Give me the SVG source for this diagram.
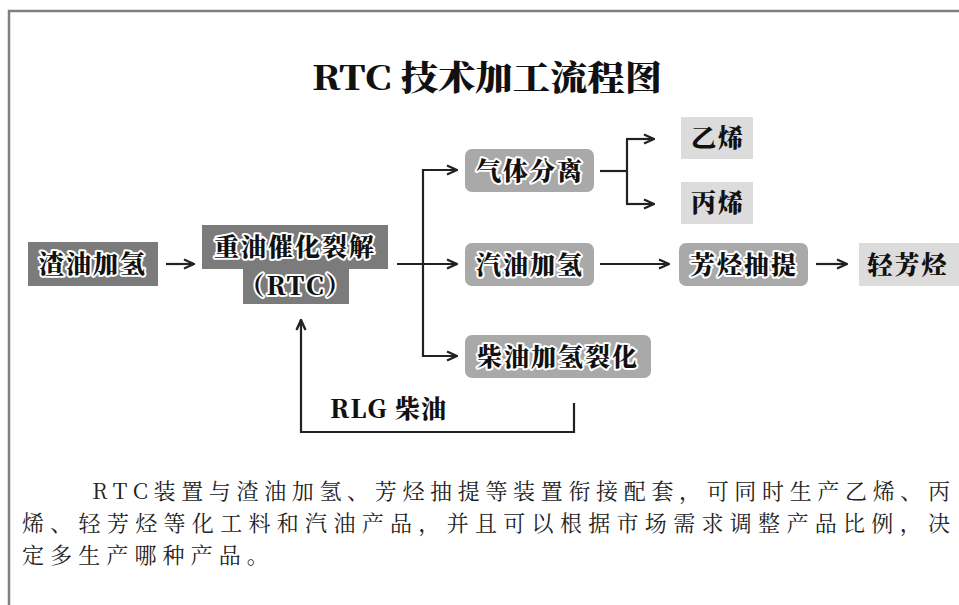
<svg xmlns="http://www.w3.org/2000/svg" width="959" height="605" viewBox="0 0 959 605">
<style>
  .frame{stroke:#808080;stroke-width:2.5;fill:none}
  .title{font-family:"Noto Serif CJK SC","Noto Sans CJK SC","Liberation Serif",serif;font-weight:900;font-size:34px;fill:#111}
  .dark{fill:#7b7b7b}
  .mid{fill:#a9a9a9}
  .light{fill:#dcdcdc}
  .lbl{font-family:"Noto Serif CJK SC","Noto Sans CJK SC","Liberation Serif",serif;font-weight:900;font-size:25px;fill:#111;text-anchor:middle;letter-spacing:2px;stroke:#fff;stroke-width:4px;stroke-linejoin:round;paint-order:stroke}
  .plain{font-family:"Noto Serif CJK SC","Noto Sans CJK SC","Liberation Serif",serif;font-weight:900;font-size:25px;fill:#111;text-anchor:middle;letter-spacing:2px}
  .conn path{fill:none;stroke:#222;stroke-width:2.2}
  .para{font-family:"Noto Serif CJK SC","Noto Sans CJK SC",serif;font-size:22px;fill:#222}
</style>
<defs>
  <marker id="ah" viewBox="0 0 12 12" refX="11" refY="6" markerWidth="12" markerHeight="12" markerUnits="userSpaceOnUse" orient="auto">
    <path d="M1,1.5 L11,6 L1,10.5" fill="none" stroke="#222" stroke-width="2.4"/>
  </marker>
</defs>
<rect width="959" height="605" fill="#fff"/>
<path class="frame" d="M9,605 V11 H959"/>
<text class="title" x="487" y="90" text-anchor="middle" textLength="350" lengthAdjust="spacingAndGlyphs">RTC 技术加工流程图</text>

<g id="n-zhayou">
  <rect class="dark" x="28" y="242" width="130" height="44"/>
  <text class="lbl" x="93" y="273">渣油加氢</text>
</g>
<g id="n-rtc">
  <rect class="dark" x="202" y="225" width="186" height="44"/>
  <rect class="dark" x="243" y="268" width="106" height="36"/>
  <text class="lbl" x="295" y="256">重油催化裂解</text>
  <text class="lbl" x="296" y="295" letter-spacing="0">（RTC）</text>
</g>
<g id="n-qiti">
  <rect class="mid" x="465" y="149" width="129" height="43" rx="7"/>
  <text class="lbl" x="530" y="180">气体分离</text>
</g>
<g id="n-qiyou">
  <rect class="mid" x="465" y="243" width="129" height="43" rx="7"/>
  <text class="lbl" x="530" y="274">汽油加氢</text>
</g>
<g id="n-chaiyou">
  <rect class="mid" x="465" y="335" width="186" height="43" rx="7"/>
  <text class="lbl" x="558" y="366">柴油加氢裂化</text>
</g>
<g id="n-yixi">
  <rect class="light" x="681" y="117" width="72" height="42"/>
  <text class="plain" x="718" y="147">乙烯</text>
</g>
<g id="n-bingxi">
  <rect class="light" x="681" y="182" width="72" height="42"/>
  <text class="plain" x="718" y="212">丙烯</text>
</g>
<g id="n-fangting">
  <rect class="mid" x="679" y="243" width="129" height="43" rx="7"/>
  <text class="lbl" x="744" y="274">芳烃抽提</text>
</g>
<g id="n-qingfang">
  <rect class="light" x="859" y="243" width="100" height="43"/>
  <text class="plain" x="908" y="274">轻芳烃</text>
</g>

<g id="connectors" class="conn">
  <path d="M166,264 H194" marker-end="url(#ah)"/>
  <path d="M397,264 H457" marker-end="url(#ah)"/>
  <path d="M423,170 H457" marker-end="url(#ah)"/>
  <path d="M423,169 V356 H457" marker-end="url(#ah)"/>
  <path d="M600,171 H627"/>
  <path d="M627,139 V204"/>
  <path d="M626,139 H654" marker-end="url(#ah)"/>
  <path d="M626,204 H654" marker-end="url(#ah)"/>
  <path d="M600,264 H669" marker-end="url(#ah)"/>
  <path d="M816,264 H847" marker-end="url(#ah)"/>
  <path d="M574,403 V432 H301 V320" marker-end="url(#ah)"/>
</g>
<text class="plain" x="388" y="418" style="letter-spacing:0" textLength="116" lengthAdjust="spacing">RLG 柴油</text>

<text class="para" x="92" y="499" textLength="858" lengthAdjust="spacing">RTC装置与渣油加氢、芳烃抽提等装置衔接配套，可同时生产乙烯、丙</text>
<text class="para" x="22" y="531" textLength="928" lengthAdjust="spacing">烯、轻芳烃等化工料和汽油产品，并且可以根据市场需求调整产品比例，决</text>
<text class="para" x="22" y="563" letter-spacing="6.1">定多生产哪种产品。</text>
</svg>
